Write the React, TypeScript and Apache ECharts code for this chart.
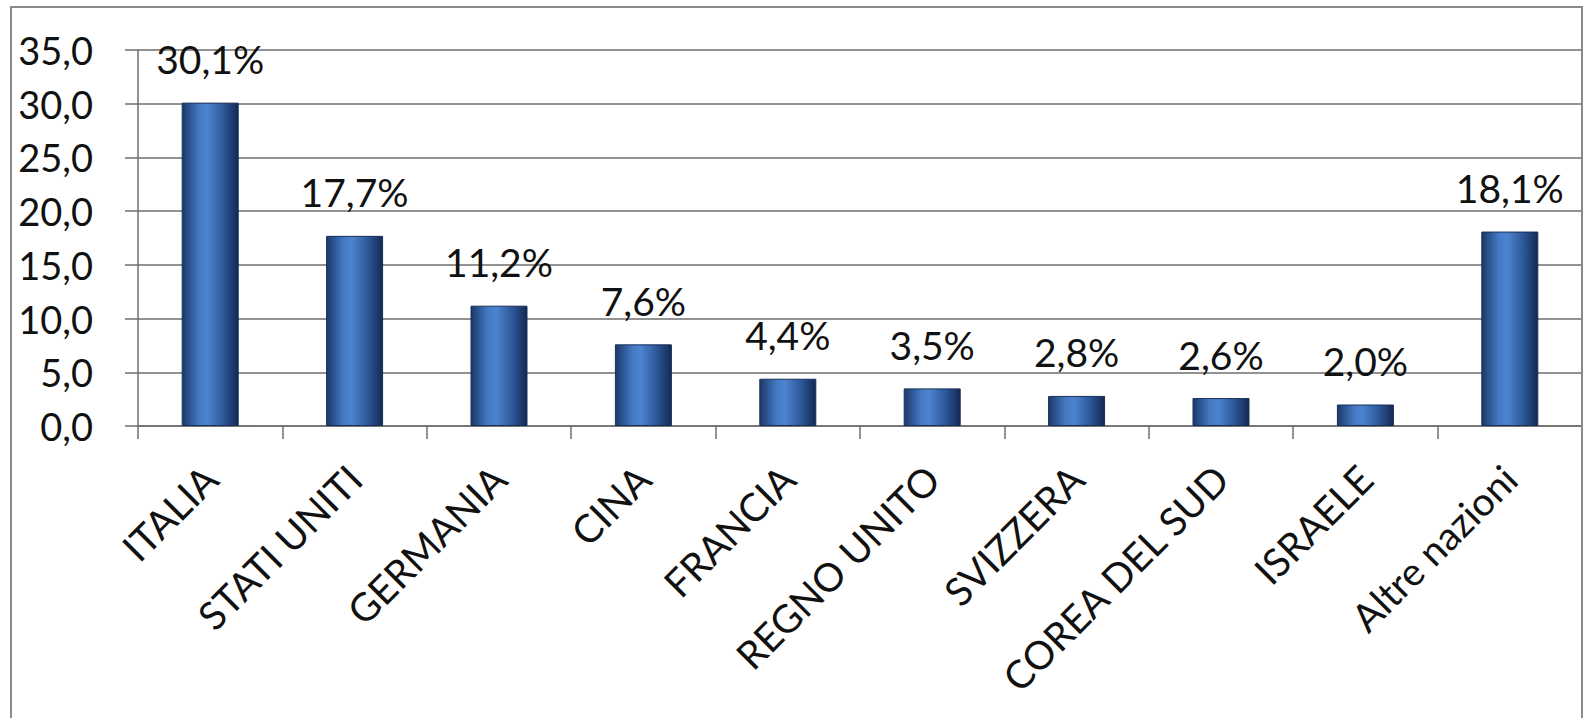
import React, { useEffect, useRef } from "react";
import * as echarts from "echarts";

const categories = [
  "ITALIA",
  "STATI UNITI",
  "GERMANIA",
  "CINA",
  "FRANCIA",
  "REGNO UNITO",
  "SVIZZERA",
  "COREA DEL SUD",
  "ISRAELE",
  "Altre nazioni",
];
const values = [30.1, 17.7, 11.2, 7.6, 4.4, 3.5, 2.8, 2.6, 2.0, 18.1];
const yMin = 0;
const yMax = 35;
const yInterval = 5;

const fmt = (v: number) => v.toFixed(1).replace(".", ",");

export default function App() {
  const ref = useRef<HTMLDivElement>(null);
  useEffect(() => {
    if (!ref.current) return;
    const chart = echarts.init(ref.current, undefined, { renderer: "svg" });
    const font = "Lato";
    const barGradient = new echarts.graphic.LinearGradient(0, 0, 1, 0, [
      { offset: 0, color: "#1b3868" },
      { offset: 0.3, color: "#4479c4" },
      { offset: 0.45, color: "#4d84cf" },
      { offset: 0.75, color: "#2b5596" },
      { offset: 1, color: "#132a52" },
    ]);
    chart.setOption({
      animation: false,
      backgroundColor: "#ffffff",
      textStyle: { fontFamily: font },
      grid: {
        left: 138,
        right: 3,
        top: 50,
        bottom: 292,
        containLabel: false,
        outerBoundsMode: "none",
      },
      graphic: [
        {
          type: "rect",
          shape: { x: 11, y: 7, width: 1571, height: 740 },
          style: { fill: "none", stroke: "#8a8a8a", lineWidth: 2 },
          silent: true,
          z: 100,
        },
      ],
      xAxis: {
        type: "category",
        data: categories,
        axisLine: { show: true, lineStyle: { color: "#6e6e6e", width: 1.5 } },
        axisTick: { show: true, length: 13, lineStyle: { color: "#6e6e6e", width: 1.5 } },
        axisLabel: {
          rotate: 45,
          interval: 0,
          fontSize: 39,
          fontFamily: font,
          color: "#111111",
          margin: 46,
        },
      },
      yAxis: {
        type: "value",
        min: yMin,
        max: yMax,
        interval: yInterval,
        axisLine: { show: true, lineStyle: { color: "#6e6e6e", width: 1.5 } },
        axisTick: { show: true, length: 13, lineStyle: { color: "#6e6e6e", width: 1.5 } },
        splitLine: { show: true, lineStyle: { color: "#6e6e6e", width: 1.5 } },
        axisLabel: {
          formatter: (v: number) => fmt(v),
          fontSize: 38,
          fontFamily: font,
          color: "#111111",
          margin: 45,
        },
      },
      series: [
        {
          type: "bar",
          data: values,
          barWidth: 57,
          itemStyle: {
            color: barGradient,
            borderColor: "#17305a",
            borderWidth: 1,
          },
          label: {
            show: true,
            position: "top",
            distance: 24,
            fontSize: 39,
            fontFamily: font,
            color: "#111111",
            formatter: (p: any) => fmt(p.value) + "%",
          },
        },
      ],
    });
    return () => chart.dispose();
  }, []);
  return (
    <div
      ref={ref}
      style={{ position: "absolute", left: 0, top: 0, width: 1585, height: 718 }}
    />
  );
}
